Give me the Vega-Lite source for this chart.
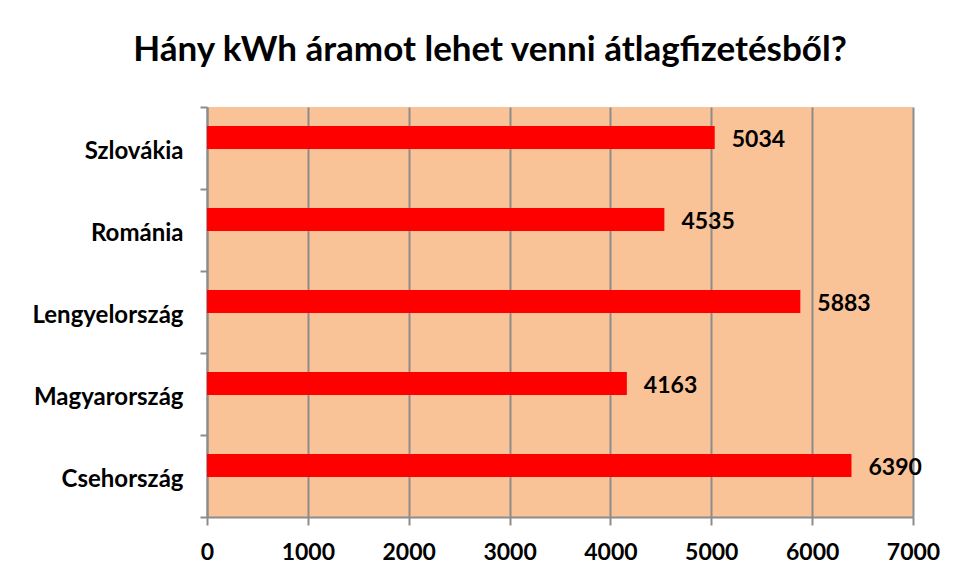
{
  "$schema": "https://vega.github.io/schema/vega-lite/v6.json",
  "width": 706,
  "height": 410,
  "autosize": {"type": "none"},
  "padding": {"left": 207, "top": 107, "right": 47, "bottom": 67},
  "background": "white",
  "title": {
    "text": "Hány kWh áramot lehet venni átlagfizetésből?",
    "font": "Lato",
    "fontSize": 35,
    "fontWeight": "bold",
    "color": "#000000",
    "anchor": "middle",
    "dx": -70,
    "offset": 27
  },
  "config": {
    "view": {"fill": "#FAC397", "stroke": null},
    "font": "Lato"
  },
  "data": {
    "values": [
      {"country": "Szlovákia", "value": 5034},
      {"country": "Románia", "value": 4535},
      {"country": "Lengyelország", "value": 5883},
      {"country": "Magyarország", "value": 4163},
      {"country": "Csehország", "value": 6390}
    ]
  },
  "encoding": {
    "y": {
      "field": "country",
      "type": "nominal",
      "sort": null,
      "scale": {"paddingInner": 0, "paddingOuter": 0},
      "axis": {
        "title": null,
        "tickBand": "extent",
        "tickSize": 7,
        "tickColor": "#8C8C8C",
        "tickWidth": 2,
        "domainColor": "#8C8C8C",
        "domainWidth": 2,
        "labelFont": "Lato",
        "labelFontSize": 24,
        "labelFontWeight": "bold",
        "labelColor": "#000000",
        "labelPadding": 17,
        "labelOffset": 3,
        "grid": false
      }
    },
    "x": {
      "field": "value",
      "type": "quantitative",
      "scale": {"domain": [0, 7000], "nice": false},
      "axis": {
        "title": null,
        "format": "d",
        "values": [0, 1000, 2000, 3000, 4000, 5000, 6000, 7000],
        "grid": true,
        "gridColor": "#8C8C8C",
        "gridWidth": 2,
        "tickSize": 8,
        "tickColor": "#8C8C8C",
        "tickWidth": 2,
        "domainColor": "#8C8C8C",
        "domainWidth": 2,
        "labelFont": "Lato",
        "labelFontSize": 23,
        "labelFontWeight": "bold",
        "labelColor": "#000000",
        "labelPadding": 16,
        "labelFlush": false
      }
    }
  },
  "layer": [
    {
      "mark": {"type": "bar", "color": "#FF0000", "size": 23, "yOffset": -10.5}
    },
    {
      "mark": {
        "type": "text",
        "align": "left",
        "baseline": "middle",
        "dx": 17,
        "yOffset": -8,
        "font": "Lato",
        "fontSize": 23,
        "fontWeight": "bold",
        "color": "#000000"
      },
      "encoding": {"text": {"field": "value", "type": "quantitative"}}
    }
  ]
}
